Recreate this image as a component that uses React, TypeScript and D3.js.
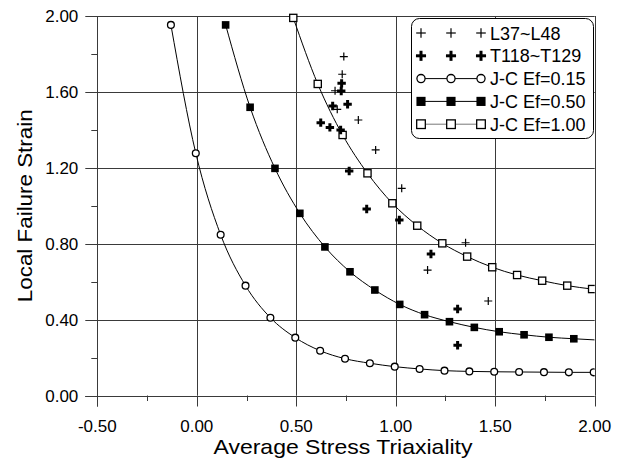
import React from "react";
import * as d3 from "d3";

const W = 621;
const H = 458;

// Johnson-Cook curves (x = average stress triaxiality, y = local failure strain)
const jc015X = [-0.13, -0.005, 0.12, 0.245, 0.37, 0.495, 0.62, 0.745, 0.87, 0.995, 1.12, 1.245, 1.37, 1.495, 1.62, 1.745, 1.87, 1.995];
const jc015Y = [1.953, 1.277, 0.847, 0.579, 0.41, 0.305, 0.236, 0.194, 0.17, 0.152, 0.14, 0.131, 0.127, 0.125, 0.124, 0.123, 0.122, 0.122];

const jc050X = [0.145, 0.268, 0.393, 0.518, 0.644, 0.77, 0.895, 1.02, 1.145, 1.27, 1.395, 1.52, 1.645, 1.77, 1.895];
const jc050Y = [1.953, 1.519, 1.197, 0.96, 0.783, 0.652, 0.556, 0.48, 0.426, 0.389, 0.359, 0.336, 0.32, 0.307, 0.299];
const jc050EndX = 2.0;
const jc050EndY = 0.293;

const jc100X = [0.485, 0.608, 0.733, 0.858, 0.983, 1.108, 1.234, 1.359, 1.485, 1.61, 1.736, 1.862, 1.987];
const jc100Y = [1.99, 1.642, 1.373, 1.171, 1.013, 0.895, 0.802, 0.732, 0.676, 0.635, 0.605, 0.579, 0.561];

// Test data
const lX = [0.739, 0.731, 0.695, 0.706, 0.812, 0.899, 1.03, 1.351, 1.16, 1.465];
const lY = [1.786, 1.693, 1.606, 1.508, 1.452, 1.294, 1.092, 0.805, 0.661, 0.498];

const tX = [0.728, 0.726, 0.683, 0.758, 0.623, 0.669, 0.723, 0.766, 0.854, 1.018, 1.177, 1.311, 1.311];
const tY = [1.645, 1.605, 1.526, 1.535, 1.438, 1.413, 1.399, 1.183, 0.983, 0.925, 0.746, 0.456, 0.265];

const xMajor = [-0.5, 0, 0.5, 1.0, 1.5, 2.0];
const xMinor = [-0.25, 0.25, 0.75, 1.25, 1.75];
const yMajor = [0, 0.4, 0.8, 1.2, 1.6, 2.0];
const yMinor = [0.2, 0.6, 1.0, 1.4, 1.8];

const legendLabels = ["L37~L48", "T118~T129", "J-C Ef=0.15", "J-C Ef=0.50", "J-C Ef=1.00"];

const x = d3.scaleLinear().domain([-0.5, 2]).range([97.3, 594.7]);
const y = d3.scaleLinear().domain([0, 2]).range([395.5, 16]);

const FONT = "Liberation Sans, Arial, Helvetica, sans-serif";
const GRID = "#3a3a3a";

const r = (v: number) => Math.round(v) + 0.5;

function Plus({ cx, cy, s, w }: { cx: number; cy: number; s: number; w: number }) {
  return (
    <g stroke="#000" strokeWidth={w}>
      <line x1={cx - s} x2={cx + s} y1={cy} y2={cy} />
      <line x1={cx} x2={cx} y1={cy - s} y2={cy + s} />
    </g>
  );
}

function Marker({ kind, cx, cy, big }: { kind: number; cx: number; cy: number; big?: boolean }) {
  const k = big ? 1.2 : 1;
  if (kind === 0) return <Plus cx={cx} cy={cy} s={4 * k} w={1.2} />;
  if (kind === 1) return <Plus cx={cx} cy={cy} s={4.2 * k} w={3} />;
  if (kind === 2) return <circle cx={cx} cy={cy} r={3.4 * k} fill="#fff" stroke="#000" strokeWidth={1.3} />;
  if (kind === 3) {
    const h = 3.8 * k;
    return <rect x={cx - h} y={cy - h} width={2 * h} height={2 * h} fill="#000" />;
  }
  const h = 3.6 * k;
  return <rect x={cx - h} y={cy - h} width={2 * h} height={2 * h} fill="#fff" stroke="#000" strokeWidth={1.3} />;
}

export default function App() {
  const line = d3
    .line<[number, number]>()
    .x((d) => x(d[0]))
    .y((d) => y(d[1]))
    .curve(d3.curveMonotoneX);

  const c015 = jc015X.map((v, i) => [v, jc015Y[i]] as [number, number]);
  const c050 = jc050X.map((v, i) => [v, jc050Y[i]] as [number, number]);
  const c050Line = [...c050, [jc050EndX, jc050EndY] as [number, number]];
  const c100 = jc100X.map((v, i) => [v, jc100Y[i]] as [number, number]);

  const x0 = x(-0.5), x1 = x(2), y0 = y(0), y1 = y(2);

  const legX = 411, legY = 18, legW = 182, legH = 120;
  const rowY = (i: number) => 33 + i * 22.8;
  const symX = [421, 451, 481];

  return (
    <svg width={W} height={H} style={{ position: "absolute", left: 0, top: 0, background: "#fff" }}>
      <rect width={W} height={H} fill="#fff" />
      <defs>
        <clipPath id="plotClip">
          <rect x={x0 - 6} y={y1 - 6} width={x1 - x0 + 6} height={y0 - y1 + 12} />
        </clipPath>
      </defs>

      {/* gridlines */}
      {yMajor.filter((v) => v > 0).map((v) => (
        <line key={"gy" + v} x1={x0} x2={x1} y1={r(y(v))} y2={r(y(v))} stroke={GRID} strokeWidth={1} />
      ))}
      {xMajor.filter((v) => v > -0.5).map((v) => (
        <line key={"gx" + v} x1={r(x(v))} x2={r(x(v))} y1={y1} y2={y0} stroke={GRID} strokeWidth={1} />
      ))}

      {/* axes */}
      <line x1={r(x0)} x2={r(x0)} y1={y1} y2={y0 + 11} stroke={GRID} />
      <line x1={x0 - 12} x2={x1} y1={r(y0)} y2={r(y0)} stroke={GRID} />
      {yMajor.map((v) => (
        <line key={"ty" + v} x1={x0 - 12} x2={x0} y1={r(y(v))} y2={r(y(v))} stroke={GRID} />
      ))}
      {yMinor.map((v) => (
        <line key={"tym" + v} x1={x0 - 6} x2={x0} y1={r(y(v))} y2={r(y(v))} stroke={GRID} />
      ))}
      {xMajor.map((v) => (
        <line key={"tx" + v} x1={r(x(v))} x2={r(x(v))} y1={y0} y2={y0 + 11} stroke={GRID} />
      ))}
      {xMinor.map((v) => (
        <line key={"txm" + v} x1={r(x(v))} x2={r(x(v))} y1={y0} y2={y0 + 5.5} stroke={GRID} />
      ))}

      {/* tick labels */}
      {yMajor.map((v) => (
        <text key={"ly" + v} x={x0 - 19} y={y(v) + 6} textAnchor="end" fontFamily={FONT} fontSize={17} fill="#000">
          {v.toFixed(2)}
        </text>
      ))}
      {xMajor.map((v) => (
        <text key={"lx" + v} x={x(v)} y={431.5} textAnchor="middle" fontFamily={FONT} fontSize={17} fill="#000">
          {v.toFixed(2)}
        </text>
      ))}

      {/* axis titles */}
      <g transform={`translate(${(x0 + x1) / 2 - 3},454) scale(1.15,1)`}>
        <text x={0} y={0} textAnchor="middle" fontFamily={FONT} fontSize={20} fill="#000">
          Average Stress Triaxiality
        </text>
      </g>
      <g transform={`translate(32,${(y0 + y1) / 2}) rotate(-90) scale(1.12,1)`}>
        <text x={0} y={0} textAnchor="middle" fontFamily={FONT} fontSize={20} fill="#000">
          Local Failure Strain
        </text>
      </g>

      {/* curves */}
      <g clipPath="url(#plotClip)">
        <path d={line(c015) || ""} fill="none" stroke="#000" strokeWidth={1} />
        <path d={line(c050Line) || ""} fill="none" stroke="#000" strokeWidth={1} />
        <path d={line(c100) || ""} fill="none" stroke="#000" strokeWidth={1} />
        {c015.map((d, i) => <Marker key={"m1" + i} kind={2} cx={x(d[0])} cy={y(d[1])} />)}
        {c050.map((d, i) => <Marker key={"m2" + i} kind={3} cx={x(d[0])} cy={y(d[1])} />)}
        {c100.map((d, i) => <Marker key={"m3" + i} kind={4} cx={x(d[0])} cy={y(d[1])} />)}
        {lX.map((v, i) => <Marker key={"pl" + i} kind={0} cx={x(v)} cy={y(lY[i])} />)}
        {tX.map((v, i) => <Marker key={"pt" + i} kind={1} cx={x(v)} cy={y(tY[i])} />)}
      </g>

      {/* legend */}
      <rect x={legX + 0.5} y={legY + 0.5} width={legW} height={legH} rx={8} ry={8} fill="#fff" stroke="#000" strokeWidth={1} />
      {legendLabels.map((lab, i) => (
        <g key={"leg" + i}>
          {i >= 2 && (
            <line x1={symX[0]} x2={symX[2]} y1={rowY(i)} y2={rowY(i)} stroke={i === 4 ? "#777" : "#000"} strokeWidth={1} />
          )}
          {symX.map((sx, j) => (
            <Marker key={j} kind={i} cx={sx} cy={rowY(i)} big />
          ))}
          <text x={490} y={rowY(i) + 6.5} fontFamily={FONT} fontSize={18} fill="#000">
            {lab}
          </text>
        </g>
      ))}
    </svg>
  );
}
